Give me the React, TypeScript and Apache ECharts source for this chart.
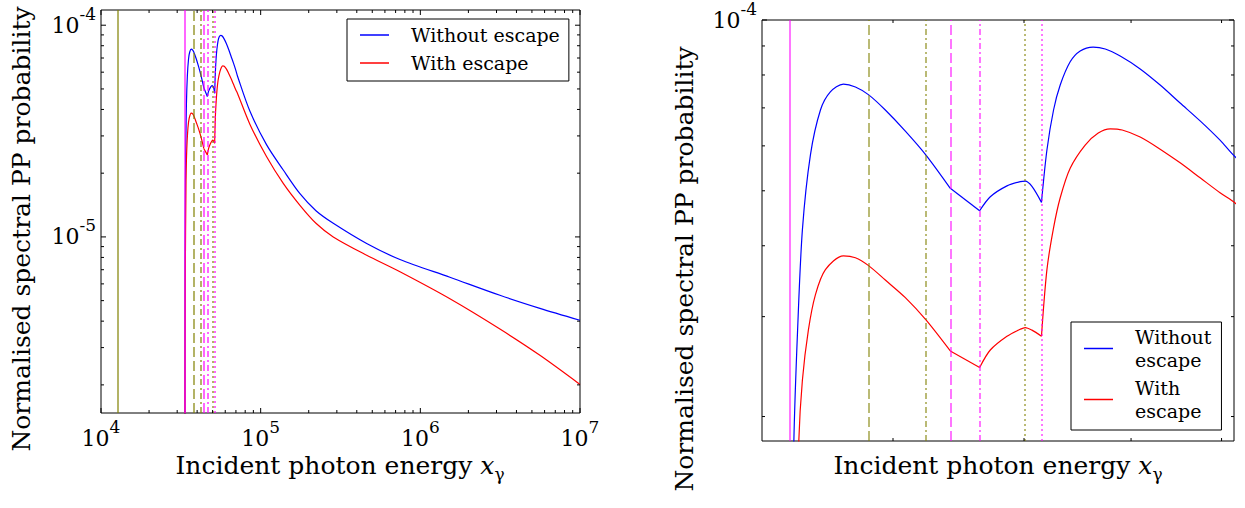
import React, { useEffect, useRef } from 'react';
import * as echarts from 'echarts';

const SERIF = "'DejaVu Serif', serif";

// ---------------- data ----------------
const seriesNames = ['Without escape', 'With escape'];

const energyWithout = [
  33550, 33620, 33785, 34000, 34280, 34750, 35350, 35950, 36760, 37520, 38380, 39480, 40850, 42310,
  44100, 46360, 47210, 48570, 49680, 50100, 50680, 51510, 51990, 52580, 53180, 54090, 55020, 56250,
  57420, 58900, 60940, 63050, 65230, 67490, 69820, 71630, 85700, 109000, 138500, 176200, 222000,
  284900, 461200, 745500, 1532000, 3151000, 5609000, 10000000,
];
const probWithout = [
  1.0e-6, 8.0e-6, 1.81e-5, 2.84e-5, 4.27e-5, 5.78e-5, 6.94e-5, 7.47e-5, 7.71e-5, 7.62e-5, 7.38e-5,
  6.94e-5, 6.37e-5, 5.78e-5, 5.05e-5, 4.61e-5, 4.88e-5, 5.1e-5, 5.19e-5, 5.2e-5, 5.09e-5, 4.77e-5,
  5.9e-5, 6.94e-5, 7.68e-5, 8.44e-5, 8.82e-5, 8.96e-5, 8.89e-5, 8.64e-5, 8.2e-5, 7.68e-5, 7.14e-5,
  6.64e-5, 6.14e-5, 5.74e-5, 3.92e-5, 2.72e-5, 2.07e-5, 1.6e-5, 1.33e-5, 1.16e-5, 9.31e-6, 7.82e-6,
  6.45e-6, 5.3e-6, 4.6e-6, 4.04e-6,
];

const energyWith = [
  33550, 33700, 34070, 34280, 34630, 35050, 35650, 36760, 37520, 38370, 39480, 40850, 42310, 44100,
  46360, 47210, 48570, 49680, 50100, 50680, 51510, 51990, 52580, 53180, 54090, 55490, 56740, 57910,
  59100, 60940, 63050, 65230, 67490, 69820, 71630, 85700, 109000, 138500, 176200, 222000, 284900,
  461200, 745500, 1532000, 3151000, 5609000, 10000000,
];
const probWith = [
  1.0e-6, 6.0e-6, 1.81e-5, 2.32e-5, 2.84e-5, 3.28e-5, 3.63e-5, 3.84e-5, 3.81e-5, 3.69e-5, 3.48e-5,
  3.24e-5, 2.96e-5, 2.61e-5, 2.44e-5, 2.62e-5, 2.77e-5, 2.85e-5, 2.87e-5, 2.84e-5, 2.77e-5, 3.63e-5,
  4.3e-5, 4.86e-5, 5.48e-5, 6.02e-5, 6.32e-5, 6.43e-5, 6.4e-5, 6.22e-5, 5.92e-5, 5.6e-5, 5.27e-5,
  4.96e-5, 4.76e-5, 3.4e-5, 2.39e-5, 1.79e-5, 1.41e-5, 1.16e-5, 1.0e-5, 8.19e-6, 6.84e-6, 5.1e-6,
  3.67e-6, 2.76e-6, 2.01e-6,
];

// vertical reference energies (thresholds)
const refEnergies = [12720, 33540, 38370, 42310, 44100, 46360, 50100, 51510];
// thresholds at which the curves have a sharp kink
const kinkEnergies = [44100, 46360, 51510];

// tick values
const leftXMajor = [1e4, 1e5, 1e6, 1e7];
const leftXMinor = [
  2e4, 3e4, 4e4, 5e4, 6e4, 7e4, 8e4, 9e4, 2e5, 3e5, 4e5, 5e5, 6e5, 7e5, 8e5, 9e5, 2e6, 3e6, 4e6, 5e6,
  6e6, 7e6, 8e6, 9e6,
];
const leftYMajor = [1e-5, 1e-4];
const leftYMinor = [
  2e-6, 3e-6, 4e-6, 5e-6, 6e-6, 7e-6, 8e-6, 9e-6, 2e-5, 3e-5, 4e-5, 5e-5, 6e-5, 7e-5, 8e-5, 9e-5,
];
const rightXMajor: number[] = [];
const rightXMinor = [4e4, 5e4, 6e4, 7e4];
const rightYMajor = [1e-4];
const rightYMinor = [2e-5, 3e-5, 4e-5, 5e-5, 6e-5, 7e-5, 8e-5, 9e-5];

// ---------------- styles / layout ----------------
const OLIVE = 'rgba(128,128,0,0.6)';
const MAGENTA = 'rgba(255,0,255,0.6)';
const DASH = [10, 4];
const DASHDOT = [6, 3, 2, 3];
const DOT = [2, 3];
const refStyles: any[] = [
  { color: OLIVE, type: 'solid' },
  { color: MAGENTA, type: 'solid' },
  { color: OLIVE, type: DASH },
  { color: OLIVE, type: DASHDOT },
  { color: MAGENTA, type: DASH },
  { color: MAGENTA, type: DASHDOT },
  { color: OLIVE, type: DOT },
  { color: MAGENTA, type: DOT },
];

const panels = [
  {
    grid: { left: 101, top: 10, width: 479, height: 403 },
    x: [1e4, 1e7],
    y: [1.473e-6, 1.18e-4],
    showX: true,
    xMaj: leftXMajor,
    xMin: leftXMinor,
    yMaj: leftYMajor,
    yMin: leftYMinor,
    refWidth: 2,
  },
  {
    grid: { left: 762, top: 20, width: 472, height: 421 },
    x: [3.2e4, 7.15e4],
    y: [1.811e-5, 1e-4],
    showX: false,
    xMaj: rightXMajor,
    xMin: rightXMinor,
    yMaj: rightYMajor,
    yMin: rightYMinor,
    refWidth: 1.8,
  },
];

const MAJ = 5;
const MIN = 3;

const powLabel = (v: number) => {
  const e = Math.log10(v);
  const r = Math.round(e);
  if (Math.abs(e - r) > 1e-6) return '';
  return `{b|10}{s|${r}}`;
};
const labelRich = {
  b: { fontFamily: SERIF, fontSize: 22, lineHeight: 40, verticalAlign: 'middle', color: '#000' },
  s: { fontFamily: SERIF, fontSize: 17, lineHeight: 17, verticalAlign: 'top', color: '#000' },
};

const titleRich = {
  a: { fontFamily: SERIF, fontSize: 25, lineHeight: 34, verticalAlign: 'middle', fill: '#000' },
  i: { fontFamily: SERIF, fontSize: 25, fontStyle: 'italic', lineHeight: 34, verticalAlign: 'middle', fill: '#000' },
  s: { fontFamily: SERIF, fontSize: 17, lineHeight: 18, verticalAlign: 'bottom', fill: '#000' },
};

function buildTicks(p: any) {
  const out: number[][] = [];
  const addX = (vals: number[], len: number) =>
    vals.forEach((v) => {
      out.push([v, p.y[0], 2, len]);
      out.push([v, p.y[1], 3, len]);
    });
  const addY = (vals: number[], len: number) =>
    vals.forEach((v) => {
      out.push([p.x[0], v, 0, len]);
      out.push([p.x[1], v, 1, len]);
    });
  addX(p.xMaj, MAJ);
  addX(p.xMin, MIN);
  addY(p.yMaj, MAJ);
  addY(p.yMin, MIN);
  return out;
}

// split a curve into pieces at the kink energies (each piece shares its end point)
function splitAtKinks(xs: number[], ys: number[]) {
  const pieces: number[][][] = [];
  let cur: number[][] = [];
  xs.forEach((x, k) => {
    cur.push([x, ys[k]]);
    if (kinkEnergies.indexOf(x) >= 0 && k > 0 && k < xs.length - 1) {
      pieces.push(cur);
      cur = [[x, ys[k]]];
    }
  });
  pieces.push(cur);
  return pieces;
}

function buildOption() {
  const grid: any[] = [];
  const xAxis: any[] = [];
  const yAxis: any[] = [];
  const series: any[] = [];

  panels.forEach((p, i) => {
    grid.push({
      ...p.grid,
      show: true,
      borderColor: '#000',
      borderWidth: 1,
      backgroundColor: 'transparent',
      containLabel: false,
      outerBoundsMode: 'none',
    });
    xAxis.push({
      type: 'log',
      logBase: 10,
      gridIndex: i,
      min: p.x[0],
      max: p.x[1],
      axisLine: { show: false },
      axisTick: { show: false },
      splitLine: { show: false },
      axisLabel: { show: p.showX, formatter: powLabel, rich: labelRich, margin: 5 },
    });
    yAxis.push({
      type: 'log',
      logBase: 10,
      gridIndex: i,
      min: p.y[0],
      max: p.y[1],
      axisLine: { show: false },
      axisTick: { show: false },
      splitLine: { show: false },
      axisLabel: { formatter: powLabel, rich: labelRich, margin: 5 },
    });

    const refs = refEnergies
      .map((e, k) => ({ e, s: refStyles[k] }))
      .filter((r) => r.e >= p.x[0] && r.e <= p.x[1])
      .map((r) => ({
        xAxis: r.e,
        lineStyle: { color: r.s.color, type: r.s.type, width: p.refWidth },
      }));

    series.push({
      type: 'line',
      name: 'refs' + i,
      xAxisIndex: i,
      yAxisIndex: i,
      data: [],
      z: 1,
      silent: true,
      markLine: {
        silent: true,
        symbol: ['none', 'none'],
        label: { show: false },
        animation: false,
        data: refs,
      },
    });

    const curves = [
      { name: seriesNames[0], xs: energyWithout, ys: probWithout, color: '#0000ff' },
      { name: seriesNames[1], xs: energyWith, ys: probWith, color: '#ff0000' },
    ];
    curves.forEach((c) => {
      splitAtKinks(c.xs, c.ys).forEach((piece) => {
        series.push({
          type: 'line',
          name: c.name,
          xAxisIndex: i,
          yAxisIndex: i,
          data: piece,
          symbol: 'none',
          showSymbol: false,
          clip: true,
          smooth: 0.3,
          z: 3,
          lineStyle: { color: c.color, width: 1.2 },
          itemStyle: { color: c.color },
        });
      });
    });

    series.push({
      type: 'custom',
      xAxisIndex: i,
      yAxisIndex: i,
      silent: true,
      z: 5,
      data: buildTicks(p),
      encode: { x: 0, y: 1 },
      renderItem: (params: any, api: any) => {
        const pt = api.coord([api.value(0), api.value(1)]);
        const dir = api.value(2);
        const len = api.value(3);
        let x2 = pt[0];
        let y2 = pt[1];
        if (dir === 0) x2 += len;
        else if (dir === 1) x2 -= len;
        else if (dir === 2) y2 -= len;
        else y2 += len;
        return {
          type: 'line',
          shape: { x1: pt[0], y1: pt[1], x2, y2 },
          style: { stroke: '#000', lineWidth: 1 },
        };
      },
    });
  });

  const legendCommon = {
    orient: 'vertical',
    data: seriesNames,
    selectedMode: false,
    borderColor: '#000',
    borderWidth: 1,
    borderRadius: 0,
    backgroundColor: '#fff',
    icon: 'rect',
    itemWidth: 29,
    itemHeight: 1.5,
  };

  return {
    animation: false,
    grid,
    xAxis,
    yAxis,
    series,
    legend: [
      {
        ...legendCommon,
        left: 347,
        top: 19,
        padding: [6, 9, 8, 13],
        itemGap: 8,
        textStyle: { fontFamily: SERIF, fontSize: 19, lineHeight: 20, color: '#000', padding: [0, 0, 0, 17] },
      },
      {
        ...legendCommon,
        left: 1071,
        top: 322,
        padding: [4, 10, 8, 13],
        itemGap: 6,
        formatter: (n: string) => n.replace(' ', '\n'),
        textStyle: { fontFamily: SERIF, fontSize: 19, lineHeight: 22.5, color: '#000', padding: [0, 0, 0, 17] },
      },
    ],
    graphic: [
      {
        type: 'text',
        x: 340,
        y: 465,
        style: { text: '{a|Incident photon energy }{i|x}{s|γ}', rich: titleRich, align: 'center', verticalAlign: 'middle' },
      },
      {
        type: 'text',
        x: 998,
        y: 465,
        style: { text: '{a|Incident photon energy }{i|x}{s|γ}', rich: titleRich, align: 'center', verticalAlign: 'middle' },
      },
      {
        type: 'text',
        x: 21,
        y: 229,
        rotation: Math.PI / 2,
        style: {
          text: 'Normalised spectral PP probability',
          font: `25px ${SERIF}`,
          fill: '#000',
          align: 'center',
          verticalAlign: 'middle',
        },
      },
      {
        type: 'text',
        x: 684,
        y: 269,
        rotation: Math.PI / 2,
        style: {
          text: 'Normalised spectral PP probability',
          font: `25px ${SERIF}`,
          fill: '#000',
          align: 'center',
          verticalAlign: 'middle',
        },
      },
    ],
  };
}

export default function App() {
  const ref = useRef<HTMLDivElement>(null);
  useEffect(() => {
    if (!ref.current) return;
    const chart = echarts.init(ref.current, undefined, { renderer: 'svg' });
    chart.setOption(buildOption() as any);
    return () => chart.dispose();
  }, []);
  return (
    <div
      ref={ref}
      style={{ position: 'fixed', left: 0, top: 0, width: 1245, height: 508, background: '#fff' }}
    />
  );
}
